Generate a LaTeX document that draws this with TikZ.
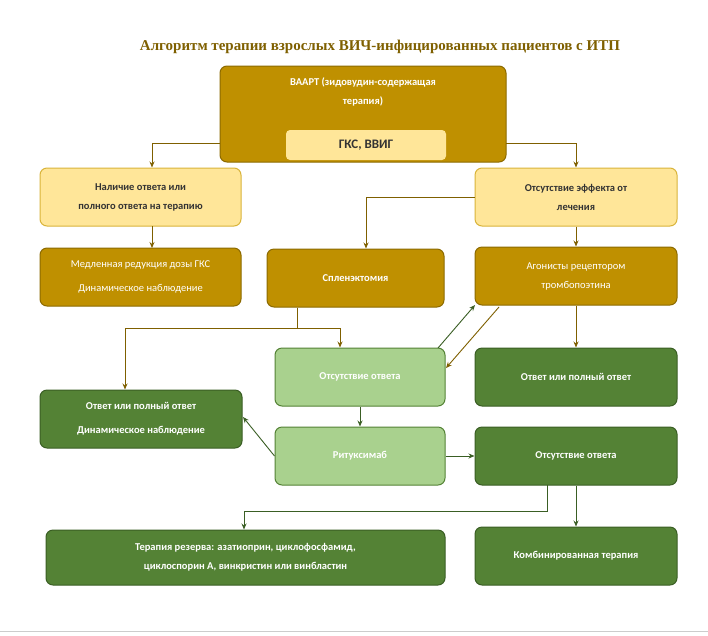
\documentclass[tikz,border=0pt]{standalone}
\usepackage{fontspec}
\setmainfont{Carlito}
\newfontfamily\titlefont{Liberation Serif}
\usetikzlibrary{arrows.meta}
\definecolor{gold}{HTML}{BF9000}
\definecolor{golddark}{HTML}{8C6A00}
\definecolor{lightgold}{HTML}{FFE699}
\definecolor{lgborder}{HTML}{D9B43A}
\definecolor{lgreen}{HTML}{A9D18E}
\definecolor{dgreen}{HTML}{548235}
\definecolor{dgborder}{HTML}{3A5E24}
\definecolor{brownline}{HTML}{7F6000}
\definecolor{greenline}{HTML}{3A5E24}
\definecolor{titlec}{HTML}{7F6000}
\begin{document}
\begin{tikzpicture}[x=1pt,y=-1pt,
  box/.style={rounded corners=7pt, line width=1pt, font=\bfseries\fontsize{10.5}{19}\selectfont, align=center},
  goldb/.style={box, fill=gold, draw=golddark, text=white},
  lgb/.style={box, fill=lightgold, draw=lgborder, text=black!80},
  lgrb/.style={box, fill=lgreen, draw=dgreen, text=white},
  dgb/.style={box, fill=dgreen, draw=dgborder, text=white},
  ba/.style={draw=brownline, line width=0.9pt, -{Stealth[length=6pt,width=5pt]}},
  ga/.style={draw=greenline, line width=0.9pt, -{Stealth[length=6pt,width=5pt]}},
  gl/.style={draw=greenline, line width=0.9pt},
  bl/.style={draw=brownline, line width=0.9pt}]
\useasboundingbox (0,0) rectangle (708,635);
\fill[white] (0,0) rectangle (708,635);
\draw[gray!40] (0,631) -- (708,631);
\node[font=\titlefont\bfseries\fontsize{15}{18}\selectfont, text=titlec] (title) at (380,47) {Алгоритм терапии взрослых ВИЧ-инфицированных пациентов с ИТП};

\path[goldb] (220,66) rectangle (506,162);
\node[font=\bfseries\fontsize{10.5}{19}\selectfont, text=white, align=center] (baart) at (363,92) {ВААРТ (зидовудин-содержащая\\терапия)};
\coordinate (baL) at (220,143); \coordinate (baR) at (506,143);
\node[box, fill=lightgold, draw=none, rounded corners=4pt, minimum width=160pt, minimum height=30pt, font=\bfseries\fontsize{13}{16}\selectfont, text=black!80] (gks) at (366,145) {ГКС, ВВИГ};

\node[lgb, minimum width=201pt, minimum height=58pt] (nal) at (140.5,197) {Наличие ответа или\\полного ответа на терапию};
\node[lgb, minimum width=202pt, minimum height=58pt] (ots) at (576,197) {Отсутствие эффекта от\\лечения};
\node[goldb, minimum width=201pt, minimum height=58pt, font=\fontsize{10.5}{24}\selectfont] (med) at (140.5,277) {Медленная редукция дозы ГКС\\Динамическое наблюдение};
\node[goldb, minimum width=177pt, minimum height=58pt] (spl) at (355.5,278) {Спленэктомия};
\node[goldb, minimum width=202pt, minimum height=58pt, font=\fontsize{10.5}{19}\selectfont] (ago) at (576,276) {Агонисты рецептором\\тромбопоэтина};
\node[lgrb, minimum width=170pt, minimum height=58pt] (noresp) at (360,377) {Отсутствие ответа};
\node[dgb, minimum width=202pt, minimum height=58pt] (respR) at (576,377) {Ответ или полный ответ};
\node[dgb, minimum width=202pt, minimum height=58pt, font=\bfseries\fontsize{10.5}{24}\selectfont] (respL) at (141,419) {Ответ или полный ответ\\Динамическое наблюдение};
\node[lgrb, minimum width=170pt, minimum height=58pt] (rit) at (360,456) {Ритуксимаб};
\node[dgb, minimum width=202pt, minimum height=58pt] (nores2) at (576,456) {Отсутствие ответа};
\node[dgb, minimum width=399pt, minimum height=55pt] (rez) at (245.5,557.5) {Терапия резерва: азатиоприн, циклофосфамид,\\циклоспорин А, винкристин или винбластин};
\node[dgb, minimum width=202pt, minimum height=58pt] (comb) at (576,556) {Комбинированная терапия};

\draw[ba] (baL) -| (nal.north -| 152,0);
\draw[ba] (baR) -| (ots.north);
\draw[ba] (152,226) -- (152,248);
\draw[ba] (ots.west) -| (spl.north -| 366,0);
\draw[ba] (ots.south) -- (ago.north);
\coordinate (sj) at (297,328);
\draw[bl] (spl.south -| 297,0) -- (sj);
\draw[bl] (125,328) -- (340,328);
\draw[ba] (340,328) -- (noresp.north -| 340,0);
\draw[ba] (125,328) -- (respL.north -| 125,0);
\draw[ga] (438,348) -- (475,305);
\draw[ba] (499,307) -- (446,368);
\draw[ba] (ago.south) -- (respR.north);
\draw[ga] (noresp.south) -- (rit.north);
\draw[ga] (rit.west) -- (243,417);
\draw[ga] (rit.east) -- (nores2.west);
\draw[gl] (547,485) -- (547,511) -- (244,511);
\draw[ga] (244,511) -- (rez.north -| 244,0);
\draw[ga] (nores2.south) -- (comb.north);
\end{tikzpicture}
\end{document}
